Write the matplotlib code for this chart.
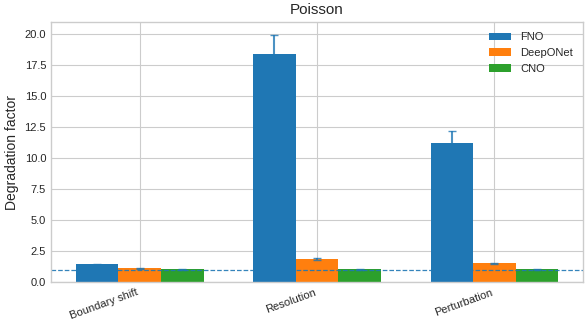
import numpy as np
import matplotlib
matplotlib.use("Agg")
import matplotlib.pyplot as plt

plt.style.use("seaborn-v0_8-whitegrid")

tasks = ["Boundary shift", "Resolution", "Perturbation"]
models = ["FNO", "DeepONet", "CNO"]
means = {
    "FNO": [1.45, 18.4, 11.2],
    "DeepONet": [1.12, 1.85, 1.52],
    "CNO": [1.03, 1.03, 1.03],
}
errs = {
    "FNO": [0.05, 1.55, 1.0],
    "DeepONet": [0.05, 0.07, 0.06],
    "CNO": [0.01, 0.01, 0.01],
}
colors = ["#1f77b4", "#ff7f0e", "#2ca02c"]

fig, ax = plt.subplots(figsize=(5.86, 3.2), dpi=100)
x = np.arange(len(tasks))
w = 0.24
for i, m in enumerate(models):
    pos = x + (i - 1) * w
    ax.bar(pos, means[m], w, color=colors[i], label=m)
    ax.errorbar(pos, means[m], yerr=errs[m], fmt="none", ecolor="#1f77b4",
                elinewidth=1.5, capsize=3, alpha=0.8)

ax.axhline(1.0, color="#1f77b4", ls="--", lw=0.9, alpha=0.9)
ax.set_xlim(-0.5, 2.5)
ax.set_xticks(x)
ax.set_xticklabels(tasks, rotation=20, ha="right", fontsize=8)
ax.tick_params(axis="y", labelsize=8)
ax.set_ylabel("Degradation factor", fontsize=10)
ax.set_title("Poisson", fontsize=11)
ax.legend(fontsize=8, loc="upper right")
for s in ax.spines.values():
    s.set_visible(True)
    s.set_color("#cccccc")

fig.subplots_adjust(left=0.087, right=0.995, top=0.93, bottom=0.118)
fig.savefig("out.png")
